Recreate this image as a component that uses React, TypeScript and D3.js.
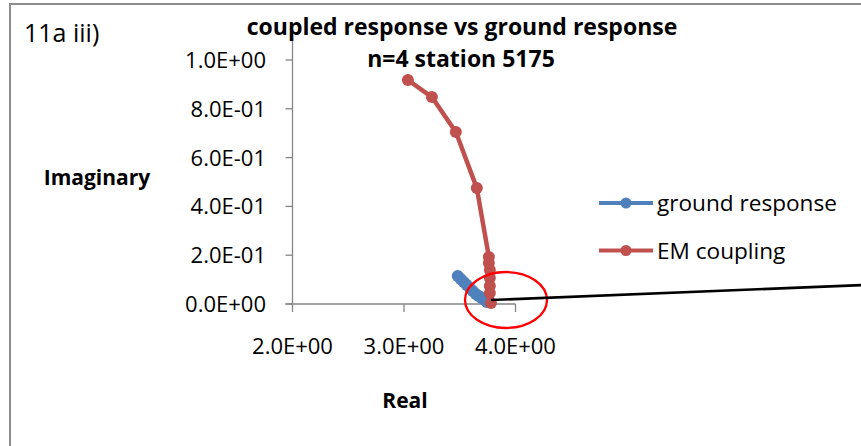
import React from "react";
import * as d3 from "d3";

const groundReal = [3.482, 3.509, 3.536, 3.563, 3.59, 3.617, 3.644, 3.671, 3.698, 3.725, 3.743];
const groundImag = [0.115, 0.102, 0.09, 0.078, 0.066, 0.053, 0.041, 0.033, 0.025, 0.016, 0.008];
const couplingReal = [3.035, 3.25, 3.465, 3.653, 3.761, 3.761, 3.77, 3.77, 3.77, 3.77, 3.78];
const couplingImag = [0.918, 0.848, 0.705, 0.475, 0.193, 0.168, 0.139, 0.107, 0.074, 0.045, 0.004];
const xTicks = [2, 3, 4];
const yTicks = [0, 0.2, 0.4, 0.6, 0.8, 1.0];
const seriesNames = ["ground response", "EM coupling"];
const titleLines = ["coupled response vs ground response", "n=4 station 5175"];

const W = 861;
const H = 446;
const BLUE = "#4F81BD";
const RED = "#C0504D";
const AXIS = "#868686";
const FONT = "'Open Sans', sans-serif";

const fmt = (v: number) => {
  const s = v.toExponential(1).toUpperCase();
  const [m, e] = s.split("E");
  const n = parseInt(e, 10);
  const sign = n < 0 ? "-" : "+";
  return `${m}E${sign}${String(Math.abs(n)).padStart(2, "0")}`;
};

export default function App() {
  const x = d3.scaleLinear().domain([2, 4]).range([292.5, 515.5]);
  const y = d3.scaleLinear().domain([0, 1]).range([304, 60]);
  const yTop = y(1.1);

  const ground = groundReal.map((v, i) => [v, groundImag[i]] as [number, number]);
  const coupling = couplingReal.map((v, i) => [v, couplingImag[i]] as [number, number]);
  const line = d3
    .line<[number, number]>()
    .x((d) => x(d[0]))
    .y((d) => y(d[1]));

  const series = [
    { name: seriesNames[0], data: ground, color: BLUE },
    { name: seriesNames[1], data: coupling, color: RED },
  ];

  const last = coupling[coupling.length - 1];
  const ax = x(last[0]);
  const ay = y(last[1]);

  return (
    <svg
      width={W}
      height={H}
      style={{ position: "absolute", left: 0, top: 0, background: "#fff" }}
      fontFamily={FONT}
    >
      <rect x={0} y={0} width={W} height={H} fill="#fff" />
      <rect x={10} y={4} width={W + 50} height={H + 50} fill="none" stroke="#8c8c8c" strokeWidth={2} />

      <text x={24} y={42} fontSize={25} fill="#000">11a iii)</text>

      <line x1={x(2)} x2={x(2)} y1={yTop} y2={y(0)} stroke={AXIS} strokeWidth={1.3} />
      <line x1={x(2) - 7} x2={x(4)} y1={y(0)} y2={y(0)} stroke={AXIS} strokeWidth={1.3} />
      {yTicks.map((t) => (
        <g key={"y" + t}>
          <line x1={x(2) - 7} x2={x(2)} y1={y(t)} y2={y(t)} stroke={AXIS} strokeWidth={1.3} />
          <text x={266} y={y(t)} dy="0.36em" textAnchor="end" fontSize={22} fill="#000">
            {fmt(t)}
          </text>
        </g>
      ))}
      {xTicks.map((t) => (
        <g key={"x" + t}>
          <line x1={x(t)} x2={x(t)} y1={y(0)} y2={y(0) + 8} stroke={AXIS} strokeWidth={1.3} />
          <text x={x(t)} y={354} textAnchor="middle" fontSize={22} fill="#000">
            {fmt(t)}
          </text>
        </g>
      ))}

      <text x={462} y={35} textAnchor="middle" fontSize={23} fontWeight="bold" fill="#000">
        {titleLines[0]}
      </text>
      <text x={461} y={67} textAnchor="middle" fontSize={23} fontWeight="bold" fill="#000">
        {titleLines[1]}
      </text>
      <text x={97} y={185} textAnchor="middle" fontSize={21} fontWeight="bold" fill="#000">
        Imaginary
      </text>
      <text x={405} y={408} textAnchor="middle" fontSize={21} fontWeight="bold" fill="#000">
        Real
      </text>

      {series.map((s) => (
        <g key={s.name}>
          <path d={line(s.data) ?? ""} fill="none" stroke={s.color} strokeWidth={4.5} strokeLinejoin="round" />
          {s.data.map((d, i) => (
            <circle key={i} cx={x(d[0])} cy={y(d[1])} r={6} fill={s.color} />
          ))}
        </g>
      ))}

      {series.map((s, i) => (
        <g key={"lg" + s.name} transform={`translate(0, ${203 + i * 47.5})`}>
          <line x1={599} x2={653} y1={0} y2={0} stroke={s.color} strokeWidth={4} />
          <circle cx={626} cy={0} r={5.5} fill={s.color} />
          <text x={657} y={0} dy="0.36em" fontSize={22.6} fill="#000">
            {s.name}
          </text>
        </g>
      ))}

      <ellipse cx={506} cy={300} rx={41} ry={28} fill="none" stroke="#ff0000" strokeWidth={2.3} />
      <line x1={ax} y1={ay - 3} x2={W + 2} y2={285} stroke="#000" strokeWidth={2.7} />
    </svg>
  );
}
